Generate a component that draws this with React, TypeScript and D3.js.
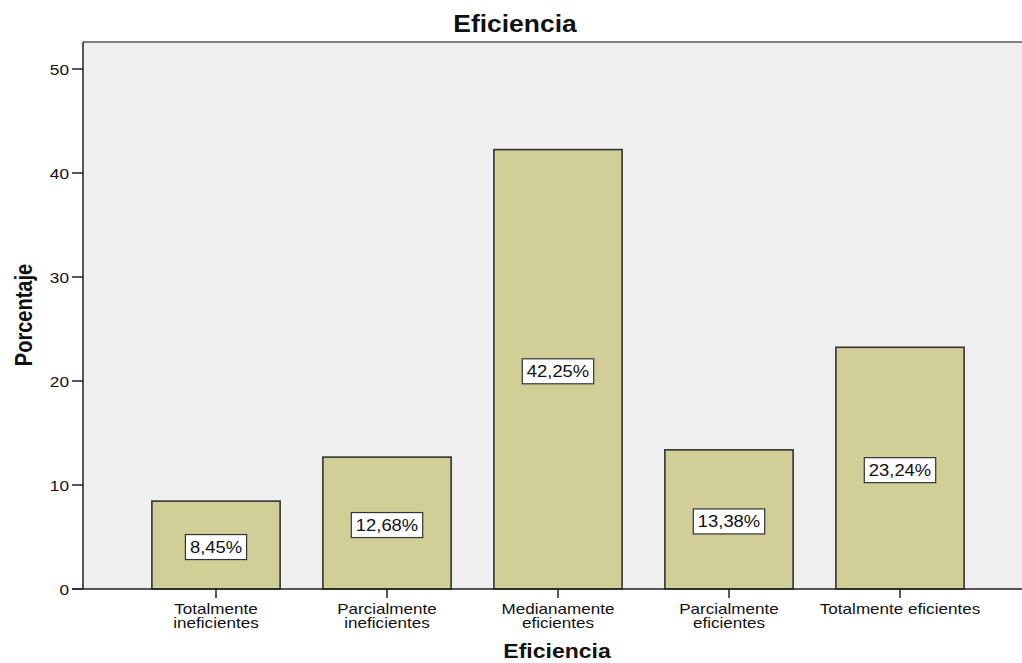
import React from "react";
import * as d3 from "d3";

const categories = [
  ["Totalmente", "ineficientes"],
  ["Parcialmente", "ineficientes"],
  ["Medianamente", "eficientes"],
  ["Parcialmente", "eficientes"],
  ["Totalmente eficientes"],
];
const values = [8.45, 12.68, 42.25, 13.38, 23.24];
const valueLabels = ["8,45%", "12,68%", "42,25%", "13,38%", "23,24%"];
const yTicks = [0, 10, 20, 30, 40, 50];

const W = 1022;
const H = 663;
const plotLeft = 83;
const plotTop = 42;
const plotRight = 1022;
const plotBottom = 589;
const font = "Arial, 'Liberation Sans', sans-serif";
const SX = 1.15;

function SText(props: {
  x: number;
  y: number;
  size: number;
  anchor?: string;
  bold?: boolean;
  sx?: number;
  children: React.ReactNode;
}) {
  const { x, y, size, anchor = "middle", bold, sx = SX, children } = props;
  return (
    <g transform={`translate(${x},${y}) scale(${sx},1)`}>
      <text x={0} y={0} textAnchor={anchor} fontSize={size} fontWeight={bold ? "bold" : "normal"} fill="#111">
        {children}
      </text>
    </g>
  );
}

const charW: Record<string, number> = { ",": 0.278, "%": 0.889 };
function textWidth(s: string, size: number) {
  let w = 0;
  for (const c of s) w += charW[c] ?? 0.556;
  return w * size * SX;
}

export default function App() {
  const idx = categories.map((_, i) => String(i));
  const x = d3.scaleBand<string>().domain(idx).range([130.5, 985.5]).paddingInner(0.25).paddingOuter(0.125);
  const y = d3.scaleLinear().domain([0, 50]).range([plotBottom, plotBottom - 520]);

  return (
    <svg width={W} height={H} style={{ position: "absolute", left: 0, top: 0, background: "#fff" }} fontFamily={font}>
      <rect x={plotLeft} y={plotTop} width={plotRight - plotLeft} height={plotBottom - plotTop} fill="#efefef" />
      <line x1={plotLeft} x2={plotRight} y1={plotTop} y2={plotTop} stroke="#808080" strokeWidth={2} />
      {values.map((v, i) => {
        const bx = x(String(i))!;
        const bw = x.bandwidth();
        const cx = bx + bw / 2;
        const my = y(v / 2) + 2;
        const lw = textWidth(valueLabels[i], 16) + 9;
        return (
          <g key={i}>
            <rect x={bx} y={y(v)} width={bw} height={y(0) - y(v)} fill="#d2ce98" stroke="#333" strokeWidth={1.6} />
            <rect x={cx - lw / 2} y={my - 12.5} width={lw} height={25} fill="#fff" stroke="#333" strokeWidth={1.2} />
            <SText x={cx} y={my + 6} size={16}>{valueLabels[i]}</SText>
          </g>
        );
      })}
      <line x1={plotLeft} x2={plotLeft} y1={plotTop} y2={plotBottom} stroke="#222" strokeWidth={1.5} />
      <line x1={plotLeft - 11} x2={plotRight} y1={plotBottom} y2={plotBottom} stroke="#222" strokeWidth={1.5} />
      {yTicks.map((t) => (
        <g key={t}>
          <line x1={plotLeft - 11} x2={plotLeft} y1={y(t)} y2={y(t)} stroke="#222" strokeWidth={1.5} />
          <SText x={plotLeft - 14} y={y(t) + 6} size={15} anchor="end">{t}</SText>
        </g>
      ))}
      {categories.map((lines, i) => {
        const cx = x(String(i))! + x.bandwidth() / 2;
        return (
          <g key={i}>
            <line x1={cx} x2={cx} y1={plotBottom} y2={plotBottom + 9} stroke="#222" strokeWidth={1.5} />
            {lines.map((l, j) => (
              <SText key={j} x={cx} y={plotBottom + 25 + j * 13.5} size={14} sx={1.22}>{l}</SText>
            ))}
          </g>
        );
      })}
      <SText x={515} y={32} size={23} bold>Eficiencia</SText>
      <SText x={557} y={658} size={20} bold>Eficiencia</SText>
      <g transform="translate(32,315) rotate(-90)">
        <text x={0} y={0} textAnchor="middle" fontSize={20} fontWeight="bold" fill="#111" transform={`scale(1,${SX})`}>Porcentaje</text>
      </g>
    </svg>
  );
}
